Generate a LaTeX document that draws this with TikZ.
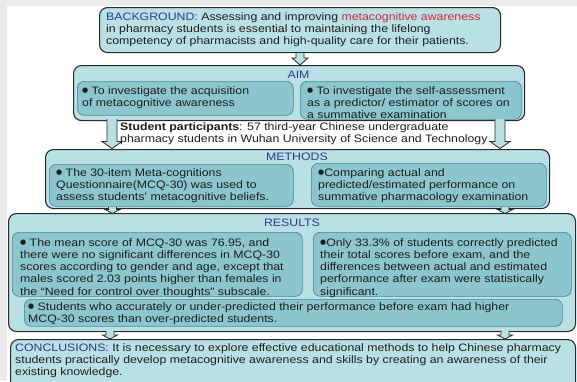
\documentclass[tikz,border=0pt]{standalone}
\usepackage{fontspec}
\setmainfont{Liberation Sans}[FakeStretch=1.14]
\newfontfamily\dejavu{DejaVu Sans}
\usetikzlibrary{calc}
\definecolor{pagegray}{HTML}{EBEBEB}
\definecolor{outerfill}{HTML}{B9E0E4}
\definecolor{innerfill}{HTML}{8BC5CE}
\definecolor{innerline}{HTML}{4A8796}
\definecolor{outline}{HTML}{2A2A2A}
\definecolor{titleblue}{HTML}{2B3E8C}
\definecolor{keyred}{HTML}{D0283C}
\definecolor{textcol}{HTML}{1E1E1E}
\newcommand\txtsize{\fontsize{10.8}{12.3}\selectfont}
\newcommand\bul{\raisebox{1.6pt}{\dejavu\fontsize{7}{7}\selectfont ●}}
\newcommand\blockarrow[5]{%
  \path let \p1=(#1), \p2=(#2) in [fill=outerfill, draw=outline, line width=0.8pt, line join=miter]
    (\x1-#3,\y1) -- (\x1-#3,\y2+#5) -- (\x1-#4,\y2+#5) -- (\x1,\y2) -- (\x1+#4,\y2+#5) -- (\x1+#3,\y2+#5) -- (\x1+#3,\y1);}
\tikzset{
  outerbox/.style={draw=outline, line width=1.1pt, fill=outerfill, rounded corners=8pt, inner sep=0pt, anchor=north west},
  innerbox/.style={draw=innerline, line width=0.7pt, fill=innerfill, rounded corners=7pt, inner sep=0pt, anchor=north west},
  txt/.style={inner sep=0pt, anchor=north west, align=left, font=\txtsize, text=textcol},
  ttl/.style={inner sep=0pt, anchor=center, font=\txtsize, text=titleblue},
}
\begin{document}
\begin{tikzpicture}[x=1pt,y=-1pt]
\useasboundingbox (0,0) rectangle (577,381);
\clip (0,0) rectangle (577,381);
\fill[pagegray] (0,0) rectangle (577,381);
\fill[white] (7,6) rectangle (577,381);

% boxes
\node[outerbox, minimum width=401pt, minimum height=45pt] (bg) at (99,7) {};
\node[outerbox, minimum width=451pt, minimum height=55pt] (aim) at (73,65) {};
\node[innerbox, minimum width=216pt, minimum height=34pt] (aimL) at (77,81) {};
\node[innerbox, minimum width=221pt, minimum height=38pt] (aimR) at (300,81) {};
\node[outerbox, minimum width=504pt, minimum height=59pt] (meth) at (45,149) {};
\node[innerbox, minimum width=244pt, minimum height=42pt] (methL) at (49,164) {};
\node[innerbox, minimum width=235pt, minimum height=43pt] (methR) at (311,163) {};
\node[outerbox, minimum width=567pt, minimum height=118pt] (res) at (8,213) {};
\node[innerbox, minimum width=290pt, minimum height=64pt] (resL) at (12,232) {};
\node[innerbox, minimum width=258pt, minimum height=64pt] (resR) at (313,232) {};
\node[innerbox, minimum width=538pt, minimum height=27pt] (resB) at (24,299) {};
\node[outerbox, minimum width=565pt, minimum height=60pt] (concl) at (10,339) {};

% arrows
\coordinate (a2s) at (112,119);
\coordinate (a2e) at (112,148.5);
\coordinate (a3s) at (500,119);
\coordinate (a3e) at (500,148.5);
\coordinate (a4s) at (112.5,207);
\coordinate (a4e) at (112.5,213.5);
\coordinate (a5s) at (505,207);
\coordinate (a5e) at (505,213.5);
\coordinate (a6s) at (110,330.5);
\coordinate (a6e) at (110,339);
\coordinate (a7s) at (505,330.5);
\coordinate (a7e) at (505,339);
\blockarrow{bg.south}{aim.north}{4pt}{8pt}{7pt}
\blockarrow{a2s}{a2e}{5pt}{10pt}{7pt}
\blockarrow{a3s}{a3e}{5pt}{10pt}{7pt}
\blockarrow{a4s}{a4e}{4pt}{7.5pt}{4pt}
\blockarrow{a5s}{a5e}{4pt}{7.5pt}{4pt}
\blockarrow{a6s}{a6e}{4pt}{7.5pt}{4pt}
\blockarrow{a7s}{a7e}{4pt}{7.5pt}{4pt}

% texts
\node[txt] (bgT) at (106,12) {\textcolor{titleblue}{BACKGROUND:} Assessing and improving \textcolor{keyred}{metacognitive awareness}\\in pharmacy students is essential to maintaining the lifelong\\competency of pharmacists and high-quality care for their patients.};
\node[ttl] (aimT) at (298.5,75) {AIM};
\node[txt] (aimLT) at (82,86) {\bul{} To investigate the acquisition\\of metacognitive awareness};
\node[txt] (aimRT) at (307,86) {\bul{} To investigate the self-assessment\\as a predictor/ estimator of scores on\\a summative examination};
\node[txt] (stud) at (120,122) {\textbf{Student participants}: 57 third-year Chinese undergraduate\\pharmacy students in Wuhan University of Science and Technology};
\node[ttl] (methT) at (297,157) {METHODS};
\node[txt] (methLT) at (56,168) {\bul{} The 30-item Meta-cognitions\\Questionnaire(MCQ-30) was used to\\assess students’ metacognitive beliefs.};
\node[txt] (methRT) at (318,168) {\bul{}Comparing actual and\\predicted/estimated performance on\\summative pharmacology examination};
\node[ttl] (resT) at (292,223) {RESULTS};
\node[txt] (resLT) at (20,238) {\bul{} The mean score of MCQ-30 was 76.95, and\\there were no significant differences in MCQ-30\\scores according to gender and age, except that\\males scored 2.03 points higher than females in\\the “Need for control over thoughts” subscale.};
\node[txt] (resRT) at (320,238) {\bul{}Only 33.3\% of students correctly predicted\\their total scores before exam, and the\\differences between actual and estimated\\performance after exam were statistically\\significant.};
\node[txt] (resBT) at (28,302) {\bul{} Students who accurately or under-predicted their performance before exam had higher\\MCQ-30 scores than over-predicted students.};
\node[txt] (conclT) at (15,343) {\textcolor{titleblue}{CONCLUSIONS:} It is necessary to explore effective educational methods to help Chinese pharmacy\\students practically develop metacognitive awareness and skills by creating an awareness of their\\existing knowledge.};
\end{tikzpicture}
\end{document}
